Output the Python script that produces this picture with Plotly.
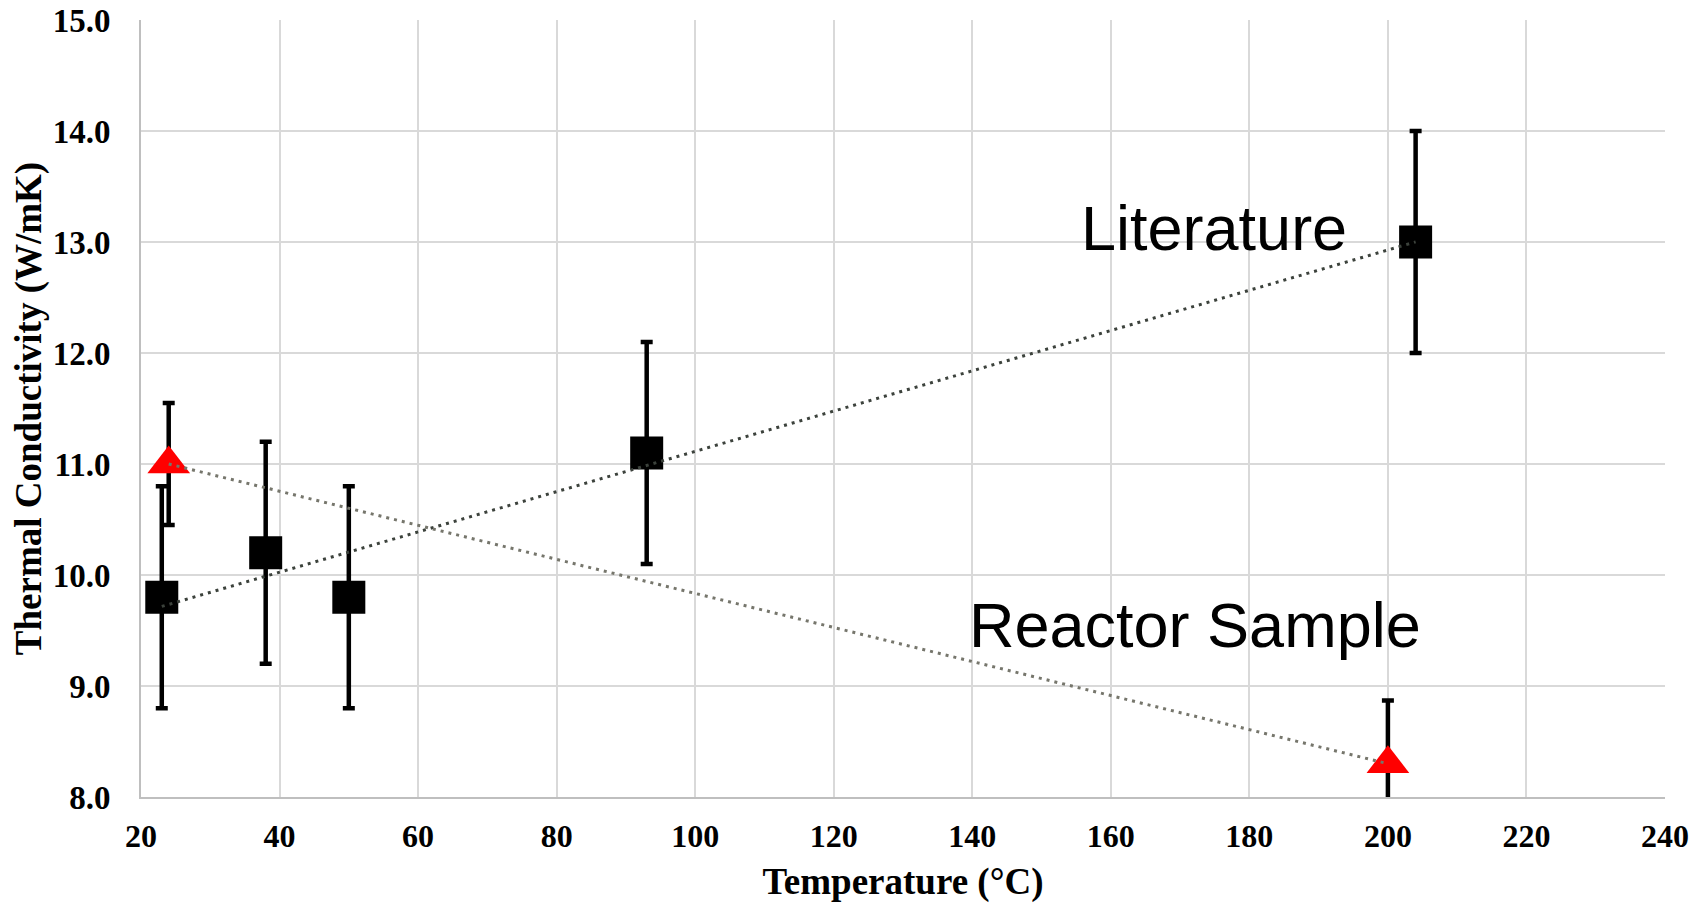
import numpy as np
import plotly.graph_objects as go

# Literature data
lit_temp = [23, 38, 50, 93, 204]
lit_k = [9.8, 10.2, 9.8, 11.1, 13.0]
lit_err = [1.0, 1.0, 1.0, 1.0, 1.0]

# Reactor sample data
rx_temp = [24, 200]
rx_k = [11.0, 8.3]
rx_err = [0.55, 0.57]

x_ticks = [20, 40, 60, 80, 100, 120, 140, 160, 180, 200, 220, 240]
y_ticks = [8.0, 9.0, 10.0, 11.0, 12.0, 13.0, 14.0, 15.0]

# linear trendlines
lit_fit = np.polyfit(lit_temp, lit_k, 1)
rx_fit = np.polyfit(rx_temp, rx_k, 1)
lit_tx = [min(lit_temp), max(lit_temp)]
rx_tx = [min(rx_temp), max(rx_temp)]

fig = go.Figure()

fig.add_trace(go.Scatter(
    x=lit_temp, y=lit_k, mode="markers",
    marker=dict(symbol="square", size=33, color="black"),
    error_y=dict(type="data", array=lit_err, visible=True, color="black",
                 thickness=4.5, width=6),
    showlegend=False))

fig.add_trace(go.Scatter(
    x=rx_temp, y=rx_k, mode="markers",
    marker=dict(symbol="triangle-up", size=37, color="#ff0000"),
    error_y=dict(type="data", array=rx_err, visible=True, color="black",
                 thickness=4.5, width=6),
    showlegend=False))

fig.add_trace(go.Scatter(
    x=lit_tx, y=np.polyval(lit_fit, lit_tx), mode="lines",
    line=dict(color="#3c423c", width=3, dash="3px,5px"),
    showlegend=False, hoverinfo="skip"))

fig.add_trace(go.Scatter(
    x=rx_tx, y=np.polyval(rx_fit, rx_tx), mode="lines",
    line=dict(color="#76766c", width=3, dash="3px,5px"),
    showlegend=False, hoverinfo="skip"))

serif = "Liberation Serif"
sans = "Liberation Sans"

fig.update_layout(
    width=1704, height=903,
    margin=dict(l=141, r=39, t=20, b=106),
    paper_bgcolor="white", plot_bgcolor="white",
    annotations=[
        dict(x=174.9, y=13.13, xref="x", yref="y", text="Literature",
             showarrow=False, font=dict(family=sans, size=63, color="black")),
        dict(x=172.2, y=9.55, xref="x", yref="y", text="Reactor Sample",
             showarrow=False, font=dict(family=sans, size=63, color="black")),
    ],
    xaxis=dict(
        range=[20, 240], tickvals=x_ticks, ticktext=[str(v) for v in x_ticks],
        showgrid=True, gridcolor="#d9d9d9", gridwidth=2,
        showline=True, linecolor="#bfbfbf", linewidth=2,
        ticks="", ticklabelstandoff=10, automargin=False,
        tickfont=dict(family=serif, size=32, color="black", weight="bold"),
        title=dict(text="<b>Temperature (°C)</b>", standoff=16,
                   font=dict(family=serif, size=37, color="black")),
        zeroline=False),
    yaxis=dict(
        range=[8, 15], tickvals=y_ticks, ticktext=[f"{v:.1f}" for v in y_ticks],
        showgrid=True, gridcolor="#d9d9d9", gridwidth=2,
        showline=True, linecolor="#bfbfbf", linewidth=2,
        ticks="", ticklabelstandoff=22, automargin=False,
        tickfont=dict(family=serif, size=33, color="black", weight="bold"),
        title=dict(text="<b>Thermal Conductivity (W/mK)</b>", standoff=0,
                   font=dict(family=serif, size=37, color="black")),
        zeroline=False),
)

fig.write_html("out.html")
